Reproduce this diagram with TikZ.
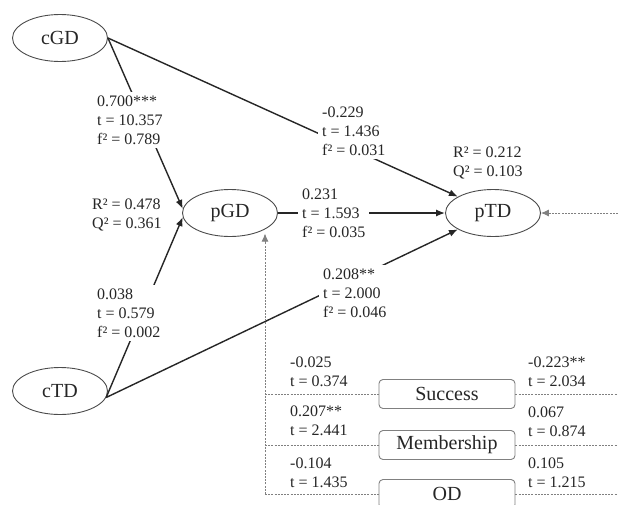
\documentclass[tikz,border=0pt]{standalone}
\usepackage{fontspec}
\setmainfont{Liberation Serif}
\usetikzlibrary{shapes.geometric,arrows.meta}
\begin{document}
\begin{tikzpicture}[x=1pt,y=-1pt,
  lab/.style={font=\fontsize{16}{19}\selectfont, align=left, inner sep=4pt, text=black!85, anchor=west},
  cutlab/.style={lab, fill=white},
  latent/.style={ellipse, draw=black!70, line width=0.9pt, minimum width=95pt, minimum height=47pt, inner sep=0pt, font=\fontsize{20}{24}\selectfont, text=black!85},
  ctrlbox/.style={rectangle, rounded corners=4pt, draw=black!50, line width=0.9pt, minimum width=136pt, minimum height=29pt, inner sep=0pt, font=\fontsize{20}{24}\selectfont, text=black!85},
  rel/.style={draw=black!85, line width=1.4pt, -{Latex[length=9pt,width=7pt]}},
  ctlline/.style={draw=black!50, line width=0.8pt, dash pattern=on 2pt off 1.2pt},
  ctlarr/.style={ctlline, -{Latex[length=8pt,width=7pt]}}
]
\useasboundingbox (0,0) rectangle (618,504);
\clip (0,0) rectangle (618,504);
\fill[white] (0,0) rectangle (618,504);

% latent variables
\node[latent] (cGD) at (60,38) {cGD};
\node[latent] (pGD) at (230,213) {pGD};
\node[latent] (pTD) at (493,213) {pTD};
\node[latent] (cTD) at (60,391) {cTD};

% control boxes
\node[ctrlbox] (succ) at (447,394) {Success};
\node[ctrlbox] (memb) at (447,445) {Membership};
\node[ctrlbox] (od) at (447,494) {OD};

% helper coordinates
\coordinate (vb) at (265,494);
\coordinate (rx) at (618,0);
\coordinate (rin) at (618,213);

% structural paths
\draw[rel] (cGD.east) -- (pGD.175);
\draw[rel] (cTD.-8) -- (pGD.185);
\draw[rel] (cGD.east) -- (pTD.155);
\draw[rel] (cTD.-8) -- (pTD.205);
\draw[rel] (pGD.east) -- (pTD.west);

% control paths
\draw[ctlarr] (vb) -- (vb |- pGD.-40);
\draw[ctlline] (vb) -- (od.west);
\draw[ctlline] (succ.west -| vb) -- (succ.west);
\draw[ctlline] (memb.west -| vb) -- (memb.west);
\draw[ctlline] (succ.east) -- (succ.east -| rx);
\draw[ctlline] (memb.east) -- (memb.east -| rx);
\draw[ctlline] (od.east) -- (od.east -| rx);
\draw[ctlarr] (rin) -- (pTD.east);

% path labels
\node[cutlab] (l1) at (93,120) {0.700***\\t = 10.357\\f² = 0.789};
\node[cutlab] (l2) at (318,131) {-0.229\\t = 1.436\\f² = 0.031};
\node[cutlab] (l3) at (298,213) {0.231\\t = 1.593\\f² = 0.035};
\node[cutlab] (l4) at (319,293) {0.208**\\t = 2.000\\f² = 0.046};
\node[cutlab] (l5) at (93,313) {0.038\\t = 0.579\\f² = 0.002};

% R2 / Q2
\node[lab] (r1) at (88,215) {R² = 0.478\\Q² = 0.361};
\node[lab] (r2) at (449,163) {R² = 0.212\\Q² = 0.103};

% control labels
\node[lab] (c1) at (286,372) {-0.025\\t = 0.374};
\node[lab] (c2) at (286,421) {0.207**\\t = 2.441};
\node[lab] (c3) at (286,473) {-0.104\\t = 1.435};
\node[lab] (c4) at (524,372) {-0.223**\\t = 2.034};
\node[lab] (c5) at (524,422) {0.067\\t = 0.874};
\node[lab] (c6) at (524,473) {0.105\\t = 1.215};
\end{tikzpicture}
\end{document}
